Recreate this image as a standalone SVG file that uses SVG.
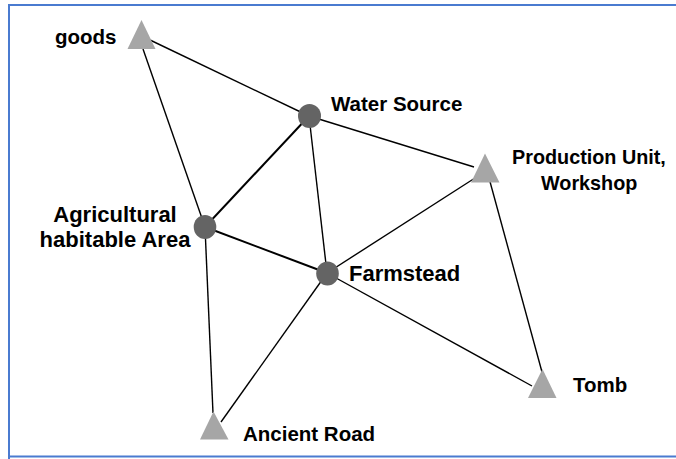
<svg xmlns="http://www.w3.org/2000/svg" width="676" height="459" viewBox="0 0 676 459">
<style>
.lbl{font-family:"Liberation Sans",Arial,Helvetica,sans-serif;font-weight:bold;font-size:20.5px;fill:#000}
.big{font-size:22px}
.sm{font-size:19.8px}
.tri{fill:#a6a6a6}
.dot{fill:#646464}
.edge{stroke:#000;stroke-width:1.4;fill:none}
.edge2{stroke:#000;stroke-width:2;fill:none}
</style>
<rect x="0" y="0" width="676" height="459" fill="#fff"/>
<path d="M9,459 V5 H676 M9,456.5 H676" stroke="#4a7bd0" stroke-width="2" fill="none"/>
<g id="connectors">
<line class="edge" x1="150" y1="40" x2="309" y2="116"/>
<line class="edge" x1="143" y1="49" x2="205" y2="227"/>
<line class="edge2" x1="309" y1="116" x2="205" y2="227"/>
<line class="edge" x1="309" y1="116" x2="327" y2="273"/>
<line class="edge" x1="309" y1="116" x2="474" y2="167"/>
<line class="edge2" x1="205" y1="227" x2="327" y2="273"/>
<line class="edge" x1="205" y1="227" x2="213" y2="413"/>
<line class="edge" x1="327" y1="273" x2="475" y2="178"/>
<line class="edge" x1="327" y1="273" x2="532" y2="386"/>
<line class="edge" x1="327" y1="273" x2="221" y2="422"/>
<line class="edge" x1="489" y1="178" x2="542" y2="372"/>
</g>
<g id="goods">
<polygon class="tri" points="141.5,20 127.5,49 155.5,49"/>
<text class="lbl" x="55" y="44">goods</text>
</g>
<g id="water-source">
<ellipse class="dot" cx="309.5" cy="116" rx="11.5" ry="12"/>
<text class="lbl" x="331" y="111">Water Source</text>
</g>
<g id="agricultural-area">
<ellipse class="dot" cx="205" cy="227" rx="11.3" ry="12"/>
<text class="lbl big" text-anchor="middle" x="115" y="222">Agricultural</text>
<text class="lbl big" text-anchor="middle" x="115" y="247">habitable Area</text>
</g>
<g id="farmstead">
<ellipse class="dot" cx="327.5" cy="273.5" rx="11.3" ry="12"/>
<text class="lbl big" x="349" y="281">Farmstead</text>
</g>
<g id="production-unit">
<polygon class="tri" points="485,153.5 471,182.5 499.5,182.5"/>
<text class="lbl sm" x="512" y="164">Production Unit,</text>
<text class="lbl sm" x="541" y="190">Workshop</text>
</g>
<g id="tomb">
<polygon class="tri" points="542.5,369 528,398 556.5,398"/>
<text class="lbl" x="573" y="392">Tomb</text>
</g>
<g id="ancient-road">
<polygon class="tri" points="213.5,411.5 200,439.5 228.5,439.5"/>
<text class="lbl" x="243" y="441">Ancient Road</text>
</g>
</svg>
